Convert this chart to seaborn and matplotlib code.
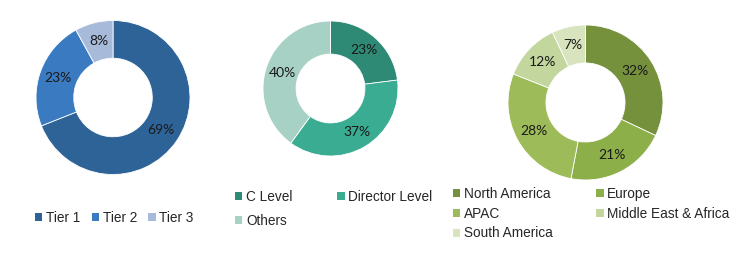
import matplotlib
matplotlib.use("Agg")
import matplotlib.pyplot as plt
from matplotlib.patches import Patch
import seaborn as sns

sns.set_theme(style="white")
plt.rcParams['font.family'] = ['Liberation Sans', 'DejaVu Sans']

tier_labels = ["Tier 1", "Tier 2", "Tier 3"]
tier_values = [69, 23, 8]
tier_colors = ["#2E6397", "#3A7AC0", "#A8BADA"]

level_labels = ["C Level", "Director Level", "Others"]
level_values = [23, 37, 40]
level_colors = ["#2E8A74", "#3AAC92", "#A6D1C4"]

region_labels = ["North America", "Europe", "APAC", "Middle East & Africa", "South America"]
region_values = [32, 21, 28, 12, 7]
region_colors = ["#76913C", "#8DAF4A", "#9DBC59", "#C2D69D", "#D8E4BE"]

W, H = 750, 254
fig = plt.figure(figsize=(W / 100, H / 100), dpi=100)
fig.patch.set_facecolor("white")


def donut(cx, cy, r, values, colors):
    ax = fig.add_axes([(cx - r) / W, (H - cy - r) / H, 2 * r / W, 2 * r / H])
    ax.pie(values, colors=colors, startangle=90, counterclock=False,
           radius=1.0,
           wedgeprops=dict(width=0.49, edgecolor="white", linewidth=0.6),
           autopct=lambda p: f"{p:.0f}%", pctdistance=0.755,
           textprops=dict(fontsize=10, color="#1a1a1a", family=["Lato", "DejaVu Sans"]))
    ax.set_xlim(-1, 1)
    ax.set_ylim(-1, 1)
    ax.axis("off")
    return ax


donut(113, 97.5, 77, tier_values, tier_colors)
donut(330.5, 88.5, 67.5, level_values, level_colors)
donut(585.5, 102.5, 77.5, region_values, region_colors)


def row_major(items, ncol):
    # matplotlib fills legend columns first; reorder so rows read left to right
    nrow = -(-len(items) // ncol)
    rows = [items[i * ncol:(i + 1) * ncol] for i in range(nrow)]
    out = []
    for c in range(ncol):
        for r in rows:
            if c < len(r):
                out.append(r[c])
    return out


def legend(labels, colors, x, y, ncol, colspace, labelspacing):
    pairs = row_major(list(zip(labels, colors)), ncol)
    handles = [Patch(facecolor=c, edgecolor="none") for _, c in pairs]
    names = [l for l, _ in pairs]
    fig.legend(handles, names, loc="upper left", bbox_to_anchor=(x / W, 1 - y / H),
               ncol=ncol, frameon=False, fontsize=9.8, handlelength=0.55,
               handleheight=0.55, handletextpad=0.25, columnspacing=colspace,
               labelspacing=labelspacing, borderpad=0, borderaxespad=0,
               labelcolor="#262626")


legend(tier_labels, tier_colors, 35, 211, 3, 0.85, 0.5)
legend(level_labels, level_colors, 235, 190, 2, 3.3, 0.75)
legend(region_labels, region_colors, 453, 187, 2, 3.2, 0.42)

fig.savefig("out.png", dpi=100, facecolor="white")
